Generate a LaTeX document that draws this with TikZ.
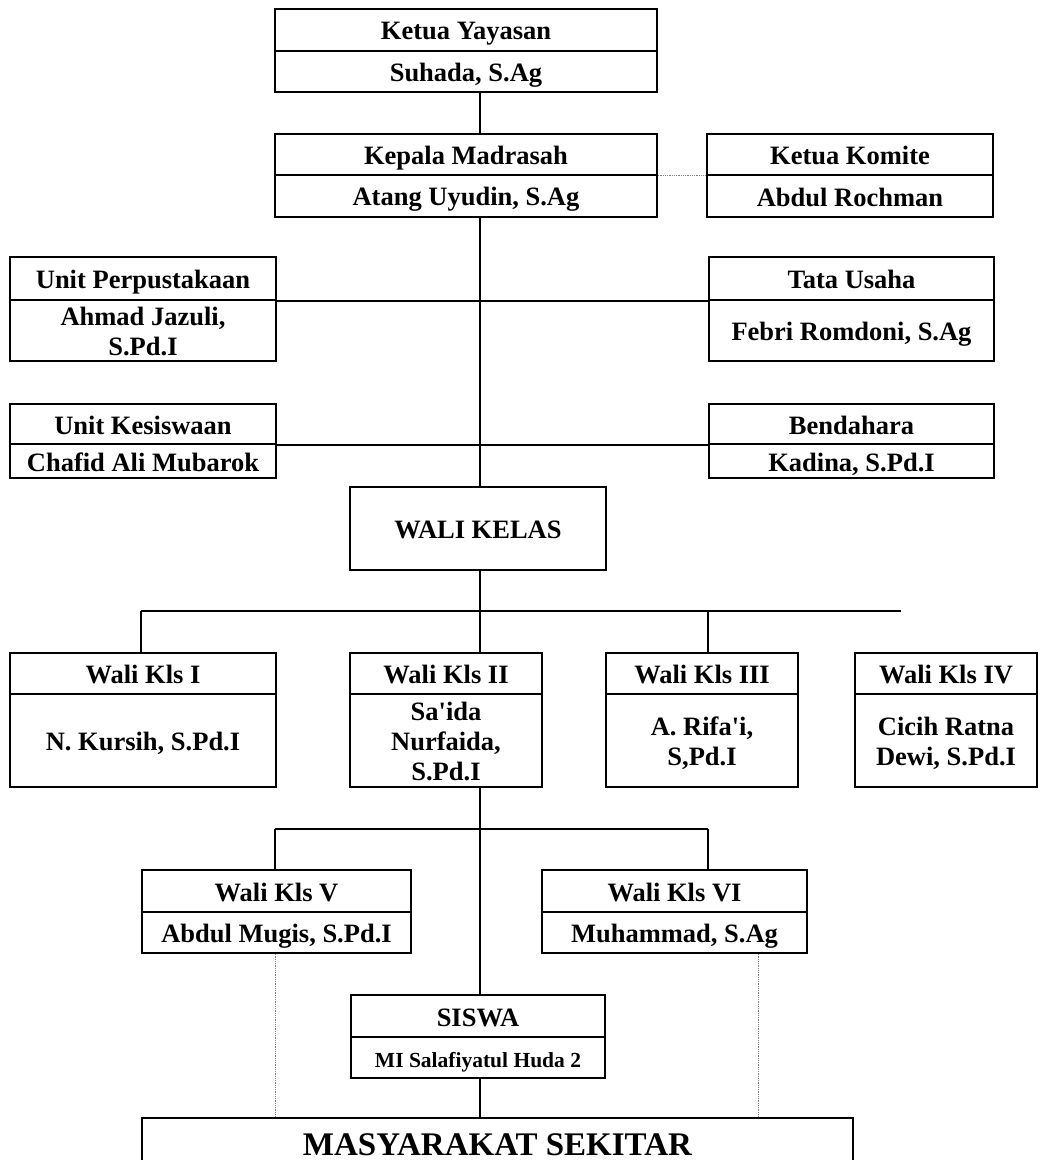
\documentclass[tikz,border=0pt]{standalone}
\usepackage{fontspec}
\setmainfont{Liberation Serif}[Ligatures=TeXOff]
\newcommand\st{\rule[-5pt]{0pt}{30pt}}
\newcommand\pbox[7][]{\node[bx,#1,minimum width={(#5-#3)*1pt},minimum height={(#6-#4)*1pt}] (#2) at ({(#3+#5)/2},{(#4+#6)/2}) {\st#7\st};}
\begin{document}
\begin{tikzpicture}[x=1pt,y=-1pt,
  bx/.style={draw, line width=1.7pt, inner sep=0pt, align=center, font=\fontsize{26.5}{30}\selectfont\bfseries},
  ln/.style={line width=1.7pt},
  dl/.style={gray, line width=0.8pt, densely dotted}]
\useasboundingbox (0,0) rectangle (1041,1160);
\clip (0,0) rectangle (1041,1160);
\fill[white] (0,0) rectangle (1041,1160);
\coordinate (sp) at (480,0);
\pbox{kya}{275}{9}{657}{51}{Ketua Yayasan}
\pbox{kyb}{275}{51}{657}{92}{Suhada, S.Ag}
\pbox{kma}{275}{134}{657}{175}{Kepala Madrasah}
\pbox{kmb}{275}{175}{657}{217}{Atang Uyudin, S.Ag}
\pbox{kka}{707}{134}{993}{175}{Ketua Komite}
\pbox{kkb}{707}{175}{993}{217}{Abdul Rochman}
\pbox{upa}{10}{257}{276}{300}{Unit Perpustakaan}
\pbox{upb}{10}{300}{276}{361}{Ahmad Jazuli,\\S.Pd.I}
\pbox{tua}{709}{257}{994}{300}{Tata Usaha}
\pbox{tub}{709}{300}{994}{361}{Febri Romdoni, S.Ag}
\pbox{uka}{10}{404}{276}{444}{Unit Kesiswaan}
\pbox{ukb}{10}{444}{276}{478}{Chafid Ali Mubarok}
\pbox{bea}{709}{404}{994}{444}{Bendahara}
\pbox{beb}{709}{444}{994}{478}{Kadina, S.Pd.I}
\pbox{wk}{350}{487}{606}{570}{WALI KELAS}
\pbox{w1a}{10}{653}{276}{694}{Wali Kls I}
\pbox{w1b}{10}{694}{276}{787}{N. Kursih, S.Pd.I}
\pbox{w2a}{350}{653}{542}{694}{Wali Kls II}
\pbox{w2b}{350}{694}{542}{787}{Sa'ida\\Nurfaida,\\S.Pd.I}
\pbox{w3a}{606}{653}{798}{694}{Wali Kls III}
\pbox{w3b}{606}{694}{798}{787}{A. Rifa'i,\\S,Pd.I}
\pbox{w4a}{855}{653}{1037}{694}{Wali Kls IV}
\pbox{w4b}{855}{694}{1037}{787}{Cicih Ratna\\Dewi, S.Pd.I}
\pbox{w5a}{142}{870}{411}{912}{Wali Kls V}
\pbox{w5b}{142}{912}{411}{953}{Abdul Mugis, S.Pd.I}
\pbox{w6a}{542}{870}{807}{912}{Wali Kls VI}
\pbox{w6b}{542}{912}{807}{953}{Muhammad, S.Ag}
\pbox{ssa}{351}{995}{605}{1037}{SISWA}
\pbox[font=\fontsize{21.5}{25}\selectfont\bfseries]{ssb}{351}{1037}{605}{1078}{MI Salafiyatul Huda 2}
\pbox[font=\fontsize{33}{36}\selectfont\bfseries]{ms}{142}{1118}{853}{1172}{MASYARAKAT SEKITAR}
% bus coordinates
\coordinate (b1) at (480,611);
\coordinate (b1l) at (141,611);
\coordinate (b1r) at (901,611);
\coordinate (b2) at (480,829);
\coordinate (b2l) at (275,829);
\coordinate (b2r) at (708,829);
% connectors
\draw[ln] (kyb.south -| sp) -- (kma.north -| sp);
\draw[ln] (kmb.south -| sp) -- (wk.north -| sp);
\draw[dl] (kma.south east) -- (kka.south west);
\draw[ln] (upa.south east) -- (tua.south west);
\draw[ln] (uka.south east) -- (bea.south west);
\draw[ln] (wk.south -| sp) -- (b1);
\draw[ln] (b1l) -- (b1r);
\draw[ln] (b1l) -- (w1a.north -| b1l);
\draw[ln] (b1) -- (w2a.north -| b1);
\draw[ln] (b2r |- b1) -- (w3a.north -| b2r);
\draw[ln] (w2b.south -| sp) -- (b2);
\draw[ln] (b2l) -- (b2r);
\draw[ln] (b2l) -- (w5a.north -| b2l);
\draw[ln] (b2r) -- (w6a.north -| b2r);
\draw[ln] (b2) -- (ssa.north -| b2);
\draw[ln] (ssb.south -| sp) -- (ms.north -| sp);
\draw[dl] (w5b.south -| b2l) -- (ms.north -| b2l);
\coordinate (d6) at (758,0);
\draw[dl] (w6b.south -| d6) -- (ms.north -| d6);
\end{tikzpicture}
\end{document}
